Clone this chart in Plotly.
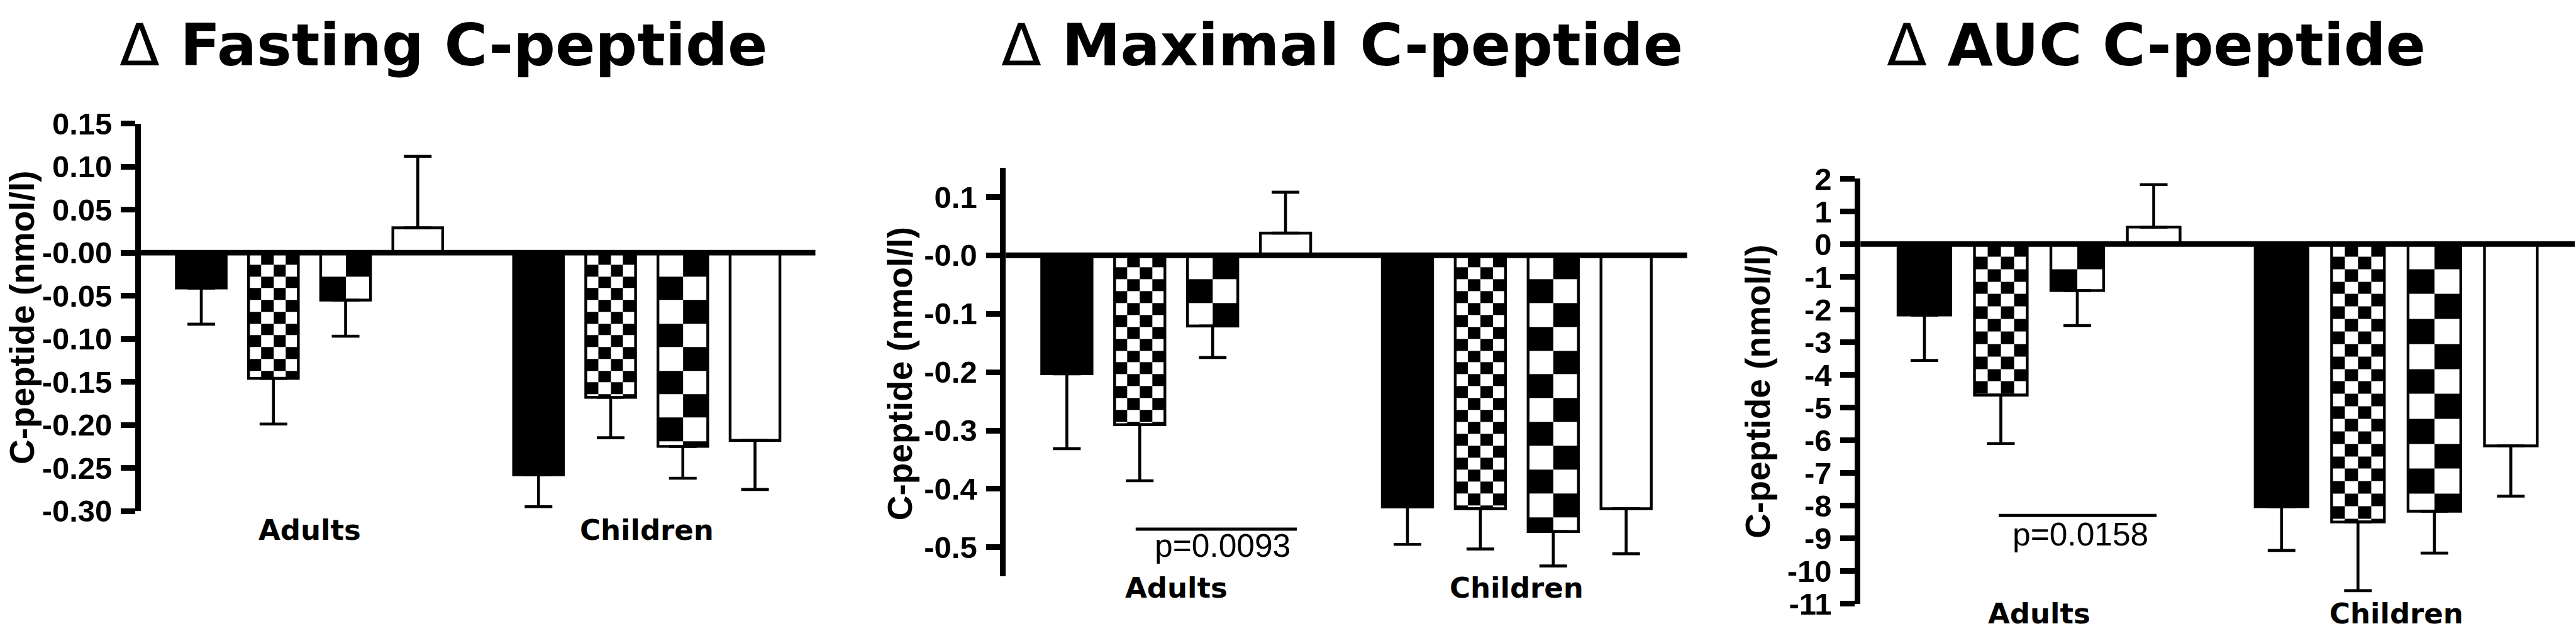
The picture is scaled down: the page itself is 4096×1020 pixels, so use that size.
import plotly.graph_objects as go

# ---------------- data ----------------
categories = ["Adults", "Children"]
series_names = ["Group 1", "Group 2", "Group 3", "Group 4"]

# each row = one series, columns = categories (Adults, Children)
fasting_mean = [[-0.041, -0.258], [-0.146, -0.168], [-0.055, -0.225], [0.029, -0.218]]
fasting_sem = [[0.042, 0.037], [0.053, 0.047], [0.042, 0.037], [0.083, 0.057]]

maximal_mean = [[-0.203, -0.431], [-0.290, -0.434], [-0.121, -0.473], [0.038, -0.434]]
maximal_sem = [[0.128, 0.064], [0.096, 0.069], [0.054, 0.059], [0.070, 0.077]]

auc_mean = [[-2.17, -8.03], [-4.62, -8.50], [-1.42, -8.17], [0.52, -6.17]]
auc_sem = [[1.39, 1.34], [1.48, 2.10], [1.07, 1.28], [1.30, 1.54]]

fasting_ticks = [0.15, 0.10, 0.05, 0.0, -0.05, -0.10, -0.15, -0.20, -0.25, -0.30]
fasting_ticklabels = ["0.15", "0.10", "0.05", "-0.00", "-0.05", "-0.10", "-0.15", "-0.20", "-0.25", "-0.30"]
maximal_ticks = [0.1, 0.0, -0.1, -0.2, -0.3, -0.4, -0.5]
maximal_ticklabels = ["0.1", "-0.0", "-0.1", "-0.2", "-0.3", "-0.4", "-0.5"]
auc_ticks = [2, 1, 0, -1, -2, -3, -4, -5, -6, -7, -8, -9, -10, -11]
auc_ticklabels = ["2", "1", "0", "-1", "-2", "-3", "-4", "-5", "-6", "-7", "-8", "-9", "-10", "-11"]

titles = ["Fasting C-peptide", "Maximal C-peptide", "AUC C-peptide"]
y_title = "C-peptide (nmol/l)"

# significance annotations (x in category units, y in data units)
sig_maximal = dict(x0=-0.119, x1=0.354, y=-0.469, tx=0.137, ty=-0.497, text="p=0.0093")
sig_auc = dict(x0=-0.113, x1=0.329, y=-8.30, tx=0.116, ty=-8.88, text="p=0.0158")

# ---------------- layout constants ----------------
W, H = 4096, 1020
RW, RH = 4205.0, 1047.0          # reference pixel frame
BARGAP, GROUPGAP = 0.144, 0.31
NSER = 4
SLOT = (1 - BARGAP) / NSER
BARW = SLOT * (1 - GROUPGAP)
LW = 8.8                          # axis line width
OUT = 4.4                         # bar outline width

TITLE_FONT = dict(family="DejaVu Sans", size=93.5, color="black", weight="bold")
CAT_FONT = dict(family="DejaVu Sans", size=45, color="black", weight="bold")
TICK_FONT = dict(family="Liberation Sans, Arial, sans-serif", size=49, color="black", weight="bold")
YT_FONT = dict(family="Liberation Sans, Arial, sans-serif", size=55, color="black", weight="bold")
P_FONT = dict(family="Liberation Sans, Arial, sans-serif", size=51.5, color="black")

panels = [
    dict(mean=fasting_mean, sem=fasting_sem, yrange=[-0.30, 0.15], ticks=fasting_ticks,
         ticktext=fasting_ticklabels, xpx=(230, 1331), ypx=(184, 852),
         title_x=724, ytitle_xy=(36, 519), cat_y=885, sig=None),
    dict(mean=maximal_mean, sem=maximal_sem, yrange=[-0.55, 0.15], ticks=maximal_ticks,
         ticktext=maximal_ticklabels, xpx=(1642, 2754), ypx=(260, 965),
         title_x=2191, ytitle_xy=(1469, 615), cat_y=985, sig=sig_maximal),
    dict(mean=auc_mean, sem=auc_sem, yrange=[-11, 2], ticks=auc_ticks,
         ticktext=auc_ticklabels, xpx=(3037, 4203), ypx=(279, 1012),
         title_x=3520, ytitle_xy=(2869, 646), cat_y=1029, sig=sig_auc),
]

fills = ["black", "rgba(0,0,0,0)", "rgba(0,0,0,0)", "white"]
checker_cols = [0, 4, 2, 0]

fig = go.Figure()
annotations = []
shapes = []


def checker(xc, width, value, ncols, cell_h):
    xe = [xc - width / 2 + width * i / ncols for i in range(ncols + 1)]
    sign = -1 if value < 0 else 1
    nfull = int(abs(value) // cell_h)
    ye = [sign * cell_h * i for i in range(nfull + 1)]
    if abs(value) - nfull * cell_h > 1e-9:
        ye.append(value)
    nrows = len(ye) - 1
    z = [[(r + c) % 2 for c in range(ncols)] for r in range(nrows)]
    if sign < 0:
        ye = ye[::-1]
        z = z[::-1]
    return xe, ye, z


for p_i, p in enumerate(panels):
    sfx = "" if p_i == 0 else str(p_i + 1)
    xa, ya = "x" + sfx, "y" + sfx
    xdom = [p["xpx"][0] / RW, p["xpx"][1] / RW]
    ydom = [1 - p["ypx"][1] / RH, 1 - p["ypx"][0] / RH]
    xrange = [-0.5, 1.5]
    pxx = (p["xpx"][1] - p["xpx"][0]) / (xrange[1] - xrange[0])
    pxy = (p["ypx"][1] - p["ypx"][0]) / (p["yrange"][1] - p["yrange"][0])

    # checkerboard fills (drawn beneath the bar outlines)
    for s in range(NSER):
        if checker_cols[s] == 0:
            continue
        cell_w_px = BARW * pxx / checker_cols[s]
        cell_h = cell_w_px / pxy
        for g in range(len(categories)):
            xc = g + (s - (NSER - 1) / 2) * SLOT
            xe, ye, z = checker(xc, BARW, p["mean"][s][g], checker_cols[s], cell_h)
            fig.add_trace(go.Heatmap(x=xe, y=ye, z=z, zmin=0, zmax=1,
                                     colorscale=[[0, "white"], [1, "black"]],
                                     showscale=False, hoverinfo="skip",
                                     xaxis=xa, yaxis=ya))

    for s in range(NSER):
        m = p["mean"][s]
        e = p["sem"][s]
        fig.add_trace(go.Bar(
            x=list(range(len(categories))), y=m, name=series_names[s],
            marker=dict(color=fills[s], line=dict(color="black", width=OUT)),
            error_y=dict(type="data", symmetric=False,
                         array=[e[i] if m[i] > 0 else 0 for i in range(len(m))],
                         arrayminus=[e[i] if m[i] < 0 else 0 for i in range(len(m))],
                         color="black", thickness=4.6, width=22),
            xaxis=xa, yaxis=ya, hoverinfo="skip"))

    fig.update_layout(**{
        "xaxis" + sfx: dict(domain=xdom, range=xrange, anchor=ya, visible=False,
                            showgrid=False, zeroline=False, fixedrange=True),
        "yaxis" + sfx: dict(domain=ydom, range=p["yrange"], anchor=xa,
                            tickvals=p["ticks"], ticktext=p["ticktext"],
                            showline=True, linewidth=LW, linecolor="black",
                            ticks="outside", ticklen=23, tickwidth=LW, tickcolor="black",
                            tickfont=TICK_FONT, ticklabelstandoff=4,
                            showgrid=False, zeroline=False, fixedrange=True),
    })

    # zero line (x axis) across the plot
    shapes.append(dict(type="line", xref=xa + " domain", yref=ya, x0=0, x1=1, y0=0, y1=0,
                       line=dict(color="black", width=LW), layer="above"))

    # panel title
    annotations.append(dict(text="<span style=\"font-weight:normal\">\u0394</span> " + titles[p_i],
                            xref="paper", yref="paper", x=p["title_x"] / RW, y=1 - 48 / RH,
                            xanchor="center", yanchor="middle", showarrow=False, font=TITLE_FONT))
    # y axis title
    annotations.append(dict(text=y_title, textangle=-90, xref="paper", yref="paper",
                            x=p["ytitle_xy"][0] / RW, y=1 - p["ytitle_xy"][1] / RH,
                            xanchor="center", yanchor="middle", showarrow=False, font=YT_FONT))
    # category labels
    for g, c in enumerate(categories):
        annotations.append(dict(text=c, xref=xa, yref="paper", x=g, y=1 - p["cat_y"] / RH,
                                xanchor="center", yanchor="middle", showarrow=False, font=CAT_FONT))
    # significance bar
    if p["sig"] is not None:
        sg = p["sig"]
        shapes.append(dict(type="line", xref=xa, yref=ya, x0=sg["x0"], x1=sg["x1"],
                           y0=sg["y"], y1=sg["y"], line=dict(color="black", width=5)))
        annotations.append(dict(text=sg["text"], xref=xa, yref=ya, x=sg["tx"], y=sg["ty"],
                                xanchor="center", yanchor="middle", showarrow=False, font=P_FONT))

fig.update_layout(
    width=W, height=H, margin=dict(l=0, r=0, t=0, b=0),
    paper_bgcolor="white", plot_bgcolor="white",
    showlegend=False, barmode="group", bargap=BARGAP, bargroupgap=GROUPGAP,
    hovermode=False, annotations=annotations, shapes=shapes,
)

fig.write_html("out.html", config={"displayModeBar": False},
               post_script="document.body.style.margin='0';document.body.style.overflow='hidden';")
